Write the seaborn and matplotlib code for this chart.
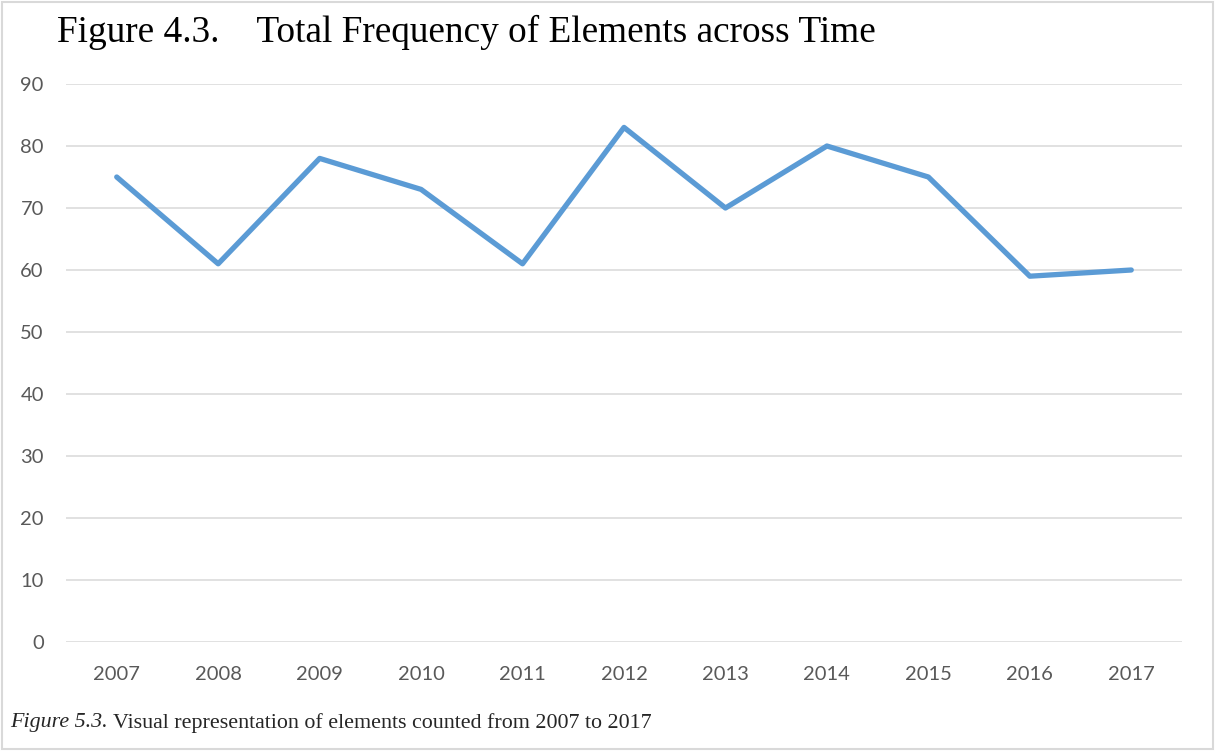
import numpy as np
import pandas as pd
import seaborn as sns
import matplotlib.pyplot as plt
from matplotlib.patches import Rectangle

# dati
years = ["2007", "2008", "2009", "2010", "2011", "2012", "2013", "2014", "2015", "2016", "2017"]
counts = [75, 61, 78, 73, 61, 83, 70, 80, 75, 59, 60]
yticks = [0, 10, 20, 30, 40, 50, 60, 70, 80, 90]

df = pd.DataFrame({"year": years, "count": counts})

sns.set_style("white")
plt.rcParams['font.family'] = ['Lato', 'DejaVu Sans']

fig = plt.figure(figsize=(12.15, 7.51), dpi=100)
ax = fig.add_axes([66 / 1215, (751 - 642) / 751, (1182 - 66) / 1215, (642 - 84) / 751])

sns.lineplot(x="year", y="count", data=df, ax=ax, color="#5B9BD5", linewidth=3.8,
             solid_capstyle="round", zorder=3)

ax.set_xlim(-0.5, len(years) - 0.5)
ax.set_ylim(0, 90)
ax.set_yticks(yticks)
ax.yaxis.grid(True, color="#D9D9D9", linewidth=1.1)
ax.set_axisbelow(True)
for s in ax.spines.values():
    s.set_visible(False)
ax.set_xlabel("")
ax.set_ylabel("")
ax.tick_params(axis="both", length=0, labelsize=14.5, labelcolor="#595959")
ax.tick_params(axis="x", pad=17)
ax.tick_params(axis="y", pad=16)

# titolo e didascalia
fig.text(57 / 1215, 1 - 32 / 751, "Figure 4.3.    Total Frequency of Elements across Time",
         family="Liberation Serif", fontsize=26.8, va="center", ha="left", color="black")

cap1 = fig.text(10 / 1215, 1 - 723 / 751, "Figure 5.3.", family="Liberation Serif",
                style="italic", fontsize=15.8, va="center", ha="left")
fig.canvas.draw()
bb = cap1.get_window_extent()
fig.text(bb.x1 / fig.bbox.width + 5 / 1215, 1 - 723 / 751,
         "Visual representation of elements counted from 2007 to 2017",
         family="Liberation Serif", fontsize=15.8, va="center", ha="left")

# bordo
fig.patches.append(Rectangle((2 / 1215, 2 / 751), 1 - 4 / 1215, 1 - 4 / 751,
                             transform=fig.transFigure, fill=False,
                             edgecolor="#D9D9D9", linewidth=1.5))

fig.savefig("out.png", dpi=100)
